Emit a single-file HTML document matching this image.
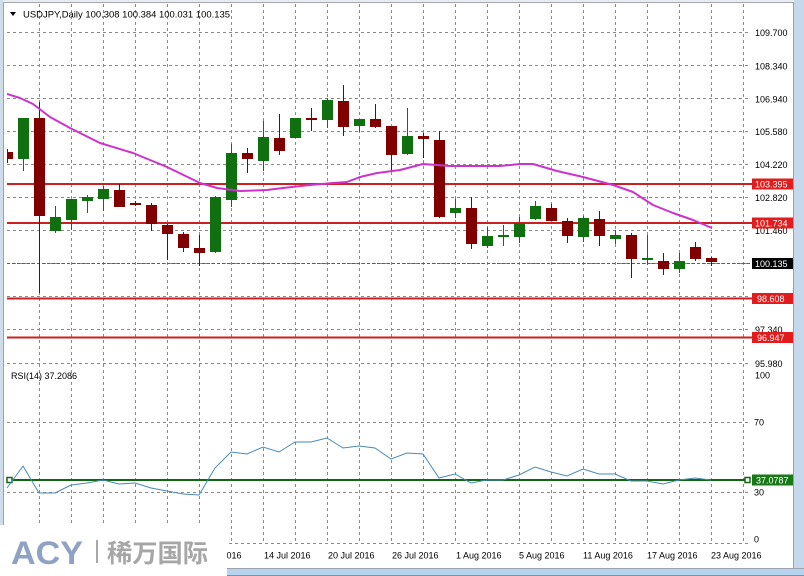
<!DOCTYPE html>
<html><head><meta charset="utf-8">
<style>
html,body{margin:0;padding:0;background:#fff;}
svg{display:block;}
text{font-family:"Liberation Sans",sans-serif;}
</style></head>
<body>
<svg width="804" height="576" xmlns="http://www.w3.org/2000/svg">
<defs>
<clipPath id="plot"><rect x="7" y="3" width="736" height="541"/></clipPath>
</defs>
<!-- window frame -->
<rect x="0" y="0" width="804" height="576" fill="#ffffff"/>
<rect x="0" y="0" width="804" height="2" fill="#e6edf5"/>
<line x1="0" y1="2.5" x2="804" y2="2.5" stroke="#a8a8a8" stroke-width="1"/>
<rect x="0" y="0" width="3" height="576" fill="#cfdcea"/>
<line x1="3.5" y1="2" x2="3.5" y2="568" stroke="#9aa4ae" stroke-width="1"/>
<rect x="794" y="0" width="10" height="576" fill="#c6d9ec"/>
<line x1="793.5" y1="2" x2="793.5" y2="569" stroke="#a0a0a0" stroke-width="1"/>
<rect x="0" y="569" width="804" height="7" fill="#b7d3ee"/>
<line x1="0" y1="568.5" x2="804" y2="568.5" stroke="#9aa4ae" stroke-width="1"/>
<line x1="0" y1="575.5" x2="804" y2="575.5" stroke="#5c9cc8" stroke-width="1"/>

<!-- grid -->
<g stroke="#8a8a8a" stroke-width="1" stroke-dasharray="3,3" shape-rendering="crispEdges">
<line x1="39.5" y1="4" x2="39.5" y2="543"/>
<line x1="71.5" y1="4" x2="71.5" y2="543"/>
<line x1="103.5" y1="4" x2="103.5" y2="543"/>
<line x1="135.5" y1="4" x2="135.5" y2="543"/>
<line x1="167.5" y1="4" x2="167.5" y2="543"/>
<line x1="199.5" y1="4" x2="199.5" y2="543"/>
<line x1="231.5" y1="4" x2="231.5" y2="543"/>
<line x1="263.5" y1="4" x2="263.5" y2="543"/>
<line x1="295.5" y1="4" x2="295.5" y2="543"/>
<line x1="327.5" y1="4" x2="327.5" y2="543"/>
<line x1="359.5" y1="4" x2="359.5" y2="543"/>
<line x1="391.5" y1="4" x2="391.5" y2="543"/>
<line x1="423.5" y1="4" x2="423.5" y2="543"/>
<line x1="455.5" y1="4" x2="455.5" y2="543"/>
<line x1="487.5" y1="4" x2="487.5" y2="543"/>
<line x1="519.5" y1="4" x2="519.5" y2="543"/>
<line x1="551.5" y1="4" x2="551.5" y2="543"/>
<line x1="583.5" y1="4" x2="583.5" y2="543"/>
<line x1="615.5" y1="4" x2="615.5" y2="543"/>
<line x1="647.5" y1="4" x2="647.5" y2="543"/>
<line x1="679.5" y1="4" x2="679.5" y2="543"/>
<line x1="711.5" y1="4" x2="711.5" y2="543"/>
<line x1="743.5" y1="4" x2="743.5" y2="543"/>
<line x1="7" y1="32.5" x2="748" y2="32.5"/>
<line x1="7" y1="65.5" x2="748" y2="65.5"/>
<line x1="7" y1="98.5" x2="748" y2="98.5"/>
<line x1="7" y1="131.5" x2="748" y2="131.5"/>
<line x1="7" y1="164.5" x2="748" y2="164.5"/>
<line x1="7" y1="197.5" x2="748" y2="197.5"/>
<line x1="7" y1="230.5" x2="748" y2="230.5"/>
<line x1="7" y1="263.5" x2="748" y2="263.5"/>
<line x1="7" y1="296.5" x2="748" y2="296.5"/>
<line x1="7" y1="329.5" x2="748" y2="329.5"/>
<line x1="7" y1="363.5" x2="748" y2="363.5"/>
<line x1="7" y1="422.5" x2="748" y2="422.5"/>
<line x1="7" y1="492.5" x2="748" y2="492.5"/>
<line x1="7" y1="543.5" x2="748" y2="543.5"/>
</g>

<!-- current price line -->
<line x1="7" y1="263.5" x2="752" y2="263.5" stroke="#56568c" stroke-width="1" stroke-dasharray="3,2"/>

<!-- red S/R lines -->
<g stroke="#cc2020" stroke-width="2">
<line x1="7" y1="184" x2="752" y2="184"/>
<line x1="7" y1="223" x2="752" y2="223"/>
<line x1="7" y1="298.5" x2="752" y2="298.5"/>
<line x1="7" y1="337.5" x2="752" y2="337.5"/>
</g>

<!-- candles -->
<g clip-path="url(#plot)" shape-rendering="crispEdges">
<g fill="#800000" stroke="none">
<rect x="7" y="149" width="1" height="14"/><rect x="2" y="152" width="11" height="7"/>
<rect x="39" y="102" width="1" height="191"/><rect x="34" y="118" width="11" height="98"/>
<rect x="119" y="184" width="1" height="23"/><rect x="114" y="190" width="11" height="17"/>
<rect x="135" y="201" width="1" height="5"/><rect x="130" y="203" width="11" height="2"/>
<rect x="151" y="203" width="1" height="28"/><rect x="146" y="205" width="11" height="19"/>
<rect x="167" y="224" width="1" height="36"/><rect x="162" y="225" width="11" height="9"/>
<rect x="183" y="232" width="1" height="20"/><rect x="178" y="234" width="11" height="14"/>
<rect x="199" y="235" width="1" height="31"/><rect x="194" y="248" width="11" height="5"/>
<rect x="247" y="148" width="1" height="25"/><rect x="242" y="153" width="11" height="6"/>
<rect x="279" y="114" width="1" height="41"/><rect x="274" y="138" width="11" height="13"/>
<rect x="311" y="108" width="1" height="23"/><rect x="306" y="118" width="11" height="2"/>
<rect x="343" y="85" width="1" height="51"/><rect x="338" y="101" width="11" height="26"/>
<rect x="375" y="104" width="1" height="24"/><rect x="370" y="119" width="11" height="8"/>
<rect x="391" y="126" width="1" height="45"/><rect x="386" y="126" width="11" height="29"/>
<rect x="423" y="133" width="1" height="25"/><rect x="418" y="136" width="11" height="3"/>
<rect x="439" y="131" width="1" height="87"/><rect x="434" y="140" width="11" height="77"/>
<rect x="471" y="197" width="1" height="52"/><rect x="466" y="208" width="11" height="36"/>
<rect x="551" y="204" width="1" height="17"/><rect x="546" y="208" width="11" height="13"/>
<rect x="567" y="218" width="1" height="25"/><rect x="562" y="221" width="11" height="15"/>
<rect x="599" y="211" width="1" height="35"/><rect x="594" y="219" width="11" height="17"/>
<rect x="631" y="233" width="1" height="45"/><rect x="626" y="235" width="11" height="24"/>
<rect x="663" y="253" width="1" height="22"/><rect x="658" y="261" width="11" height="8"/>
<rect x="695" y="242" width="1" height="19"/><rect x="690" y="247" width="11" height="12"/>
<rect x="711" y="257" width="1" height="9"/><rect x="706" y="258" width="11" height="4"/>
</g>
<g fill="#107010" stroke="none">
<rect x="23" y="118" width="1" height="53"/><rect x="18" y="118" width="11" height="41"/>
<rect x="55" y="206" width="1" height="27"/><rect x="50" y="217" width="11" height="14"/>
<rect x="71" y="199" width="1" height="31"/><rect x="66" y="199" width="11" height="21"/>
<rect x="87" y="195" width="1" height="18"/><rect x="82" y="197" width="11" height="4"/>
<rect x="103" y="186" width="1" height="25"/><rect x="98" y="189" width="11" height="10"/>
<rect x="215" y="196" width="1" height="57"/><rect x="210" y="197" width="11" height="55"/>
<rect x="231" y="144" width="1" height="63"/><rect x="226" y="153" width="11" height="47"/>
<rect x="263" y="121" width="1" height="50"/><rect x="258" y="137" width="11" height="24"/>
<rect x="295" y="118" width="1" height="20"/><rect x="290" y="118" width="11" height="20"/>
<rect x="327" y="98" width="1" height="30"/><rect x="322" y="100" width="11" height="20"/>
<rect x="359" y="119" width="1" height="13"/><rect x="354" y="119" width="11" height="7"/>
<rect x="407" y="108" width="1" height="47"/><rect x="402" y="136" width="11" height="18"/>
<rect x="455" y="199" width="1" height="19"/><rect x="450" y="208" width="11" height="5"/>
<rect x="487" y="227" width="1" height="21"/><rect x="482" y="236" width="11" height="10"/>
<rect x="503" y="225" width="1" height="21"/><rect x="498" y="235" width="11" height="2"/>
<rect x="519" y="217" width="1" height="26"/><rect x="514" y="223" width="11" height="14"/>
<rect x="535" y="201" width="1" height="19"/><rect x="530" y="206" width="11" height="13"/>
<rect x="583" y="216" width="1" height="26"/><rect x="578" y="218" width="11" height="19"/>
<rect x="615" y="230" width="1" height="14"/><rect x="610" y="235" width="11" height="4"/>
<rect x="647" y="235" width="1" height="30"/><rect x="642" y="258" width="11" height="2"/>
<rect x="679" y="253" width="1" height="20"/><rect x="674" y="261" width="11" height="8"/>
</g>
</g>

<!-- moving average -->
<polyline clip-path="url(#plot)" fill="none" stroke="#cc33cc" stroke-width="2" stroke-linejoin="round"
points="7,94 20,98 33,104 50,117 70,128 100,143 133,153 167,167 200,183 217,188 240,191 267,190 283,188 310,185 333,183 347,182 360,177 377,173 400,170 423,164 450,166 500,166 520,164 533,164 557,171 583,177 613,185 633,192 653,205 673,213 693,220 712,228"/>

<!-- RSI level line -->
<line x1="7" y1="480" x2="750" y2="480" stroke="#116611" stroke-width="2"/>
<rect x="7" y="477.5" width="5" height="5" fill="#fff" stroke="#116611" stroke-width="1.5"/>
<rect x="745" y="477.5" width="5" height="5" fill="#fff" stroke="#116611" stroke-width="1.5"/>

<!-- RSI line -->
<polyline fill="none" stroke="#4a8ab8" stroke-width="1"
points="7,488 23,466 39,493 55,493 71,485 87,483 103,480 119,484 135,483 151,488 167,491 183,494 199,495 215,468 231,452 247,454 263,447 279,452 295,442 311,442 327,438 343,448 359,446 375,448 391,459 407,453 423,454 439,478 455,474 471,483 487,480 503,480 519,475 535,467 551,472 567,476 583,469 599,474 615,474 631,481 647,481 663,484 679,480 695,478 711,480"/>

<!-- title -->
<polygon points="10,12 16,12 13,16" fill="#000"/>
<text x="23" y="17.5" font-size="9.5" fill="#000" textLength="207" lengthAdjust="spacingAndGlyphs">USDJPY,Daily  100.308 100.384 100.031 100.135</text>
<text x="11" y="379" font-size="9" fill="#000">RSI(14) 37.2086</text>

<!-- price scale labels -->
<g font-size="9" fill="#000">
<text x="755" y="36">109.700</text>
<text x="755" y="69.5">108.340</text>
<text x="755" y="102.5">106.940</text>
<text x="755" y="135">105.580</text>
<text x="755" y="168">104.220</text>
<text x="755" y="201">102.820</text>
<text x="755" y="234">101.460</text>
<text x="755" y="333">97.340</text>
<text x="755" y="367">95.980</text>
<text x="755" y="378.5">100</text>
<text x="754" y="425.5">70</text>
<text x="754" y="495.5">30</text>
<text x="754" y="542.5">0</text>
</g>
<!-- label boxes -->
<rect x="752" y="178.5" width="41" height="11" fill="#e01c1c"/>
<rect x="752" y="217.5" width="41" height="11" fill="#e01c1c"/>
<rect x="752" y="258" width="41" height="11" fill="#000"/>
<rect x="752" y="293" width="41" height="11" fill="#e01c1c"/>
<rect x="752" y="332" width="41" height="11" fill="#e01c1c"/>
<rect x="752" y="474.5" width="41" height="11" fill="#187818"/>
<g font-size="9" fill="#fff">
<text x="755" y="187.5">103.395</text>
<text x="755" y="226.5">101.734</text>
<text x="755" y="267">100.135</text>
<text x="757" y="302">98.608</text>
<text x="757" y="341">96.947</text>
<text x="756" y="483.5">37.0787</text>
</g>

<!-- date labels -->
<g font-size="9" fill="#000">
<text x="200" y="558.5">8 Jul 2016</text>
<text x="264" y="558.5">14 Jul 2016</text>
<text x="328" y="558.5">20 Jul 2016</text>
<text x="392" y="558.5">26 Jul 2016</text>
<text x="456" y="558.5">1 Aug 2016</text>
<text x="519" y="558.5">5 Aug 2016</text>
<text x="583" y="558.5">11 Aug 2016</text>
<text x="647" y="558.5">17 Aug 2016</text>
<text x="711" y="558.5">23 Aug 2016</text>
</g>

<!-- watermark logo box -->
<rect x="0" y="525" width="227" height="51" fill="#ffffff"/>
<text x="11" y="564" font-size="32" font-weight="bold" fill="#8fa2c6" textLength="72" lengthAdjust="spacingAndGlyphs">ACY</text>
<rect x="96" y="540" width="2" height="23" fill="#a8a8a8"/>
<text x="107" y="562" font-size="25" font-weight="bold" fill="#a6a6a6" textLength="101" lengthAdjust="spacingAndGlyphs" style="font-family:'Liberation Sans','Noto Sans CJK SC',sans-serif">稀万国际</text>
</svg>
</body></html>
